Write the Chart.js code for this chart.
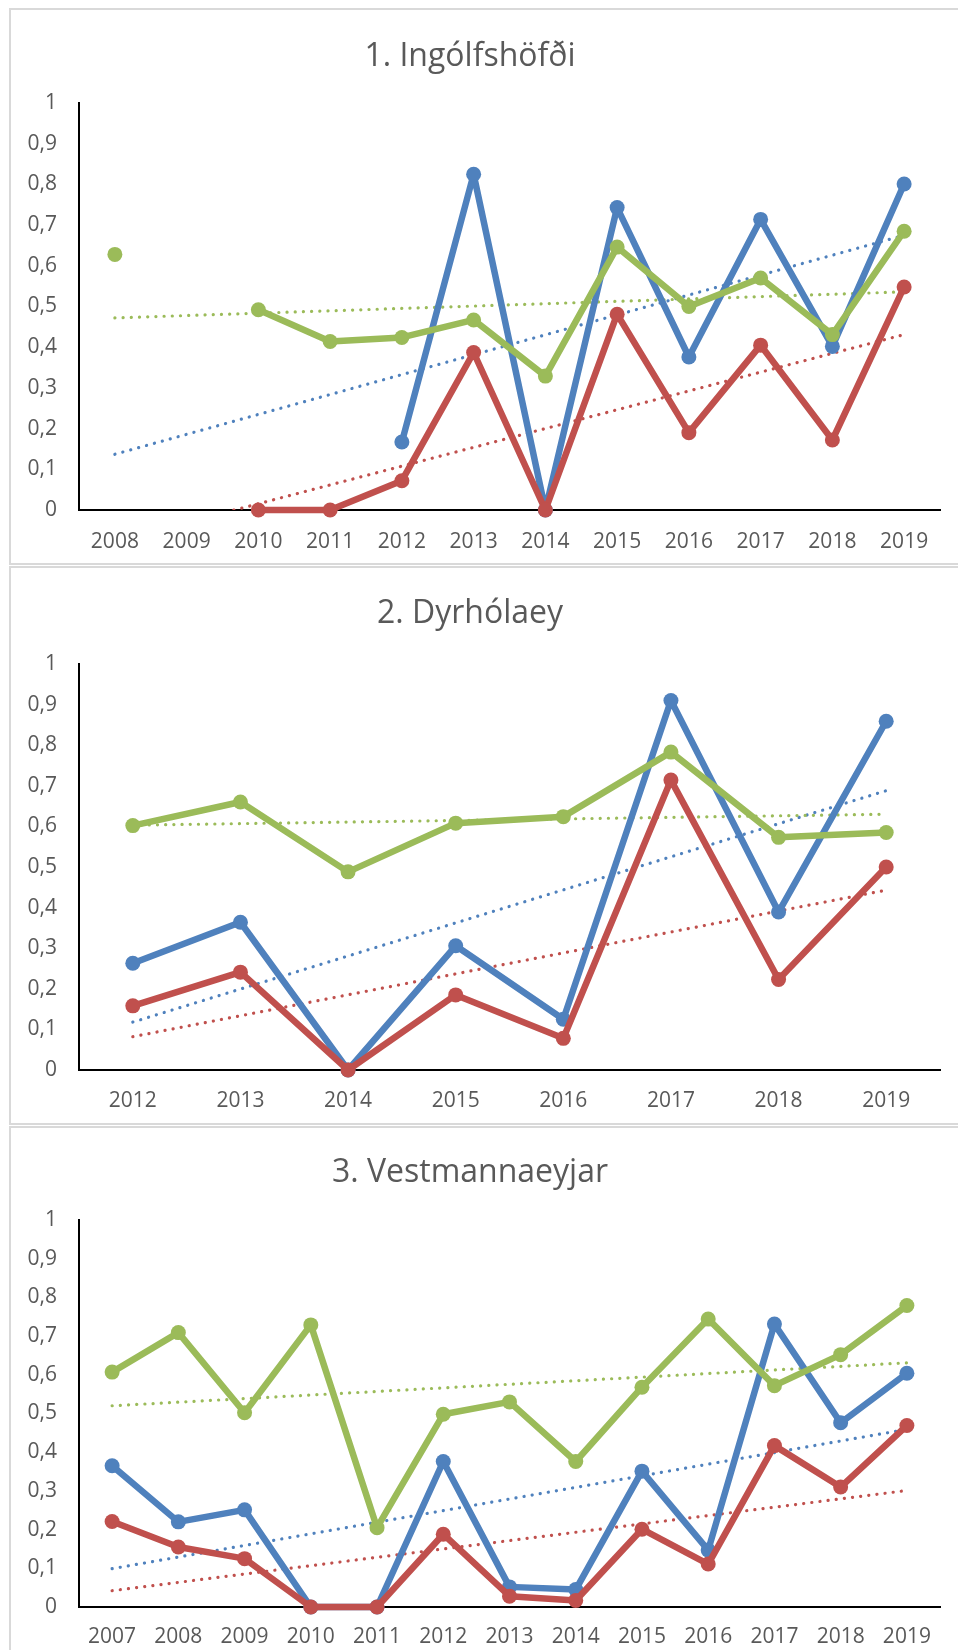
<!DOCTYPE html>
<html>
<head>
<meta charset="utf-8">
<script src="https://cdn.jsdelivr.net/npm/chart.js@4"></script>
<style>
  body { margin: 0; background: #fff; }
  .panel { position: absolute; left: 9px; width: 960px; border: 2px solid #d9d9d9; box-sizing: border-box; }
  canvas { position: absolute; left: 0; }
</style>
</head>
<body>
<div class="panel" style="top:8px;height:557px"></div>
<div class="panel" style="top:566px;height:559px"></div>
<div class="panel" style="top:1126px;height:540px"></div>
<canvas id="c1" width="958" height="553" style="top:10px"></canvas>
<canvas id="c2" width="958" height="555" style="top:568px"></canvas>
<canvas id="c3" width="958" height="522" style="top:1128px"></canvas>
<script>
const yTickLabels = ['0', '0,1', '0,2', '0,3', '0,4', '0,5', '0,6', '0,7', '0,8', '0,9', '1']

// 1. Ingólfshöfði
const years1 = ['2008', '2009', '2010', '2011', '2012', '2013', '2014', '2015', '2016', '2017', '2018', '2019']
const blue1 = [null, null, null, null, 0.167, 0.825, 0, 0.743, 0.376, 0.714, 0.402, 0.801]
const red1 = [null, null, 0, 0, 0.072, 0.387, 0, 0.481, 0.19, 0.405, 0.172, 0.548]
const green1 = [0.628, null, 0.492, 0.414, 0.424, 0.467, 0.329, 0.646, 0.5, 0.57, 0.431, 0.685]
const blueTrend1 = [0.137, null, null, null, null, null, null, null, null, null, null, 0.675]
const redTrend1 = [-0.077, null, null, null, null, null, null, null, null, null, null, 0.431]
const greenTrend1 = [0.472, null, null, null, null, null, null, null, null, null, null, 0.536]

// 2. Dyrhólaey
const years2 = ['2012', '2013', '2014', '2015', '2016', '2017', '2018', '2019']
const blue2 = [0.263, 0.364, 0, 0.306, 0.125, 0.91, 0.389, 0.859]
const red2 = [0.158, 0.241, 0, 0.185, 0.078, 0.714, 0.223, 0.5]
const green2 = [0.602, 0.66, 0.488, 0.608, 0.624, 0.783, 0.573, 0.585]
const blueTrend2 = [0.118, null, null, null, null, null, null, 0.688]
const redTrend2 = [0.082, null, null, null, null, null, null, 0.443]
const greenTrend2 = [0.603, null, null, null, null, null, null, 0.63]

// 3. Vestmannaeyjar
const years3 = ['2007', '2008', '2009', '2010', '2011', '2012', '2013', '2014', '2015', '2016', '2017', '2018', '2019']
const blue3 = [0.365, 0.22, 0.251, 0, 0, 0.376, 0.052, 0.045, 0.351, 0.147, 0.731, 0.476, 0.604]
const red3 = [0.221, 0.155, 0.125, 0, 0, 0.188, 0.028, 0.017, 0.201, 0.111, 0.417, 0.31, 0.469]
const green3 = [0.607, 0.709, 0.502, 0.729, 0.205, 0.498, 0.53, 0.376, 0.568, 0.744, 0.572, 0.652, 0.779]
const blueTrend3 = [0.099, null, null, null, null, null, null, null, null, null, null, null, 0.459]
const redTrend3 = [0.042, null, null, null, null, null, null, null, null, null, null, null, 0.301]
const greenTrend3 = [0.52, null, null, null, null, null, null, null, null, null, null, null, 0.631]

const BLUE = '#4F81BD'
const RED = '#C0504D'
const GREEN = '#9BBB59'
const TEXT = '#595959'
const FONT = "'Open Sans', sans-serif"

const series = (data, color, order) => ({
  data,
  borderColor: color,
  backgroundColor: color,
  borderWidth: 6.5,
  borderJoinStyle: 'round',
  borderCapStyle: 'round',
  pointRadius: 7.5,
  pointBorderWidth: 0,
  pointBackgroundColor: color,
  spanGaps: false,
  clip: false,
  order
})

const trend = (data, color, order) => ({
  data,
  borderColor: color,
  borderWidth: 3.2,
  borderDash: [0.1, 8.1],
  borderCapStyle: 'round',
  pointRadius: 0,
  spanGaps: true,
  order
})

// top: canvas top on the page; box: title centre, plot top, plot bottom, label centre (page y)
const makeChart = (id, title, labels, sets, top, height, box) => {
  const titleLH = 32 * 1.2
  const titlePadTop = box.title - top - titleLH / 2
  const titlePadBottom = box.plotTop - top - titlePadTop - titleLH
  new Chart(document.getElementById(id), { // eslint-disable-line
    type: 'line',
    data: {
      labels,
      datasets: [
        series(sets.green, GREEN, 1),
        series(sets.red, RED, 2),
        series(sets.blue, BLUE, 3),
        trend(sets.greenTrend, GREEN, 4),
        trend(sets.redTrend, RED, 5),
        trend(sets.blueTrend, BLUE, 6)
      ]
    },
    options: {
      responsive: false,
      animation: false,
      devicePixelRatio: 1,
      layout: { padding: { left: 0, right: 18, top: 0, bottom: 0 } },
      plugins: {
        legend: { display: false },
        tooltip: { enabled: false },
        title: {
          display: true,
          text: title,
          color: TEXT,
          font: { family: FONT, size: 32, weight: 'normal', lineHeight: 1.2 },
          padding: { top: titlePadTop, bottom: titlePadBottom }
        }
      },
      scales: {
        x: {
          offset: true,
          grid: { display: false, drawTicks: false },
          border: { display: true, color: '#000', width: 2 },
          ticks: {
            color: TEXT,
            font: { family: FONT, size: 21, lineHeight: 1.2 },
            padding: box.label - box.plotBottom - 12.6,
            maxRotation: 0,
            autoSkip: false
          },
          afterFit: (scale) => { scale.height = top + height - box.plotBottom }
        },
        y: {
          min: 0,
          max: 1,
          grid: { display: false, drawTicks: false },
          border: { display: true, color: '#000', width: 2 },
          ticks: {
            stepSize: 0.1,
            color: TEXT,
            font: { family: FONT, size: 21, lineHeight: 1.2 },
            padding: 22,
            callback: (v) => yTickLabels[Math.round(v * 10)]
          },
          afterFit: (scale) => { scale.width = 79 }
        }
      }
    }
  })
}

makeChart('c1', '1. Ingólfshöfði', years1,
  { blue: blue1, red: red1, green: green1, blueTrend: blueTrend1, redTrend: redTrend1, greenTrend: greenTrend1 },
  10, 553, { title: 57, plotTop: 103, plotBottom: 510, label: 542 })

makeChart('c2', '2. Dyrhólaey', years2,
  { blue: blue2, red: red2, green: green2, blueTrend: blueTrend2, redTrend: redTrend2, greenTrend: greenTrend2 },
  568, 555, { title: 614, plotTop: 664, plotBottom: 1070, label: 1101 })

makeChart('c3', '3. Vestmannaeyjar', years3,
  { blue: blue3, red: red3, green: green3, blueTrend: blueTrend3, redTrend: redTrend3, greenTrend: greenTrend3 },
  1128, 522, { title: 1173, plotTop: 1220, plotBottom: 1607, label: 1637 })
</script>
</body>
</html>
